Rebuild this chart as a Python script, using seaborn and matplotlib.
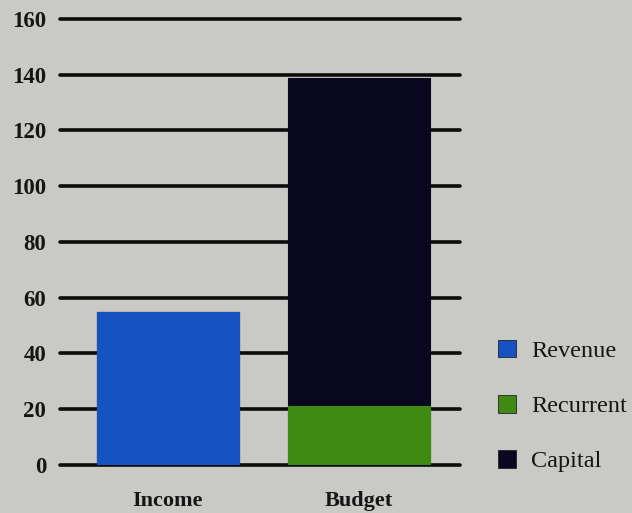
import matplotlib
matplotlib.use("Agg")
import matplotlib.pyplot as plt
from matplotlib.patches import Patch
import seaborn as sns
import pandas as pd

# Data
categories = ["Income", "Budget"]
revenue = [55, 0]
recurrent = [0, 21]
capital = [0, 118]
series_names = ["Revenue", "Recurrent", "Capital"]
y_ticks = [0, 20, 40, 60, 80, 100, 120, 140, 160]

colors = {"Revenue": "#1752c2", "Recurrent": "#3f8a12", "Capital": "#0a0820"}
bg = "#c9c9c6"

sns.set_theme(style="white")
plt.rcParams["font.family"] = ["Liberation Serif", "DejaVu Serif"]

df = pd.DataFrame({
    "category": categories,
    "Revenue": revenue,
    "Recurrent": recurrent,
    "Capital": capital,
})
# cumulative tops for stacking (drawn back to front)
df["top_capital"] = df["Revenue"] + df["Recurrent"] + df["Capital"]
df["top_recurrent"] = df["Revenue"] + df["Recurrent"]
df["top_revenue"] = df["Revenue"]

fig = plt.figure(figsize=(6.32, 5.13), dpi=100, facecolor=bg)
ax = fig.add_axes([0.095, 0.0936, 0.633, 0.8694])
ax.set_facecolor(bg)

width = 0.74
for col, name in [("top_capital", "Capital"), ("top_recurrent", "Recurrent"),
                  ("top_revenue", "Revenue")]:
    sns.barplot(data=df, x="category", y=col, order=categories, color=colors[name],
                width=width, saturation=1, edgecolor=colors[name], linewidth=0.8,
                ax=ax, zorder=3)

ax.set_ylim(0, 160)
ax.set_xlim(-0.565, 1.53)
ax.set_yticks(y_ticks)
ax.set_yticklabels([str(t) for t in y_ticks], fontsize=16.5, fontweight="bold",
                   color="#151515")
ax.set_xticks(range(len(categories)))
ax.set_xticklabels(categories, fontsize=16, fontweight="bold", color="#151515")
ax.tick_params(axis="y", length=0, pad=10)
ax.tick_params(axis="x", length=0, pad=19)
ax.set_xlabel("")
ax.set_ylabel("")
for s in ax.spines.values():
    s.set_visible(False)

# horizontal rules behind the bars
for t in y_ticks:
    ax.axhline(t, color="#0c0c0c", linewidth=2.6, zorder=1, clip_on=False)

handles = [Patch(facecolor=colors[n], edgecolor="#222222", linewidth=0.6) for n in series_names]
leg = fig.legend(handles, series_names, loc="upper left", bbox_to_anchor=(0.773, 0.357),
                 frameon=False, fontsize=17.5, handlelength=0.75, handleheight=0.75,
                 handletextpad=0.6, labelspacing=1.35, borderaxespad=0)
for txt in leg.get_texts():
    txt.set_color("#151515")

fig.savefig("out.png", dpi=100, facecolor=bg)
